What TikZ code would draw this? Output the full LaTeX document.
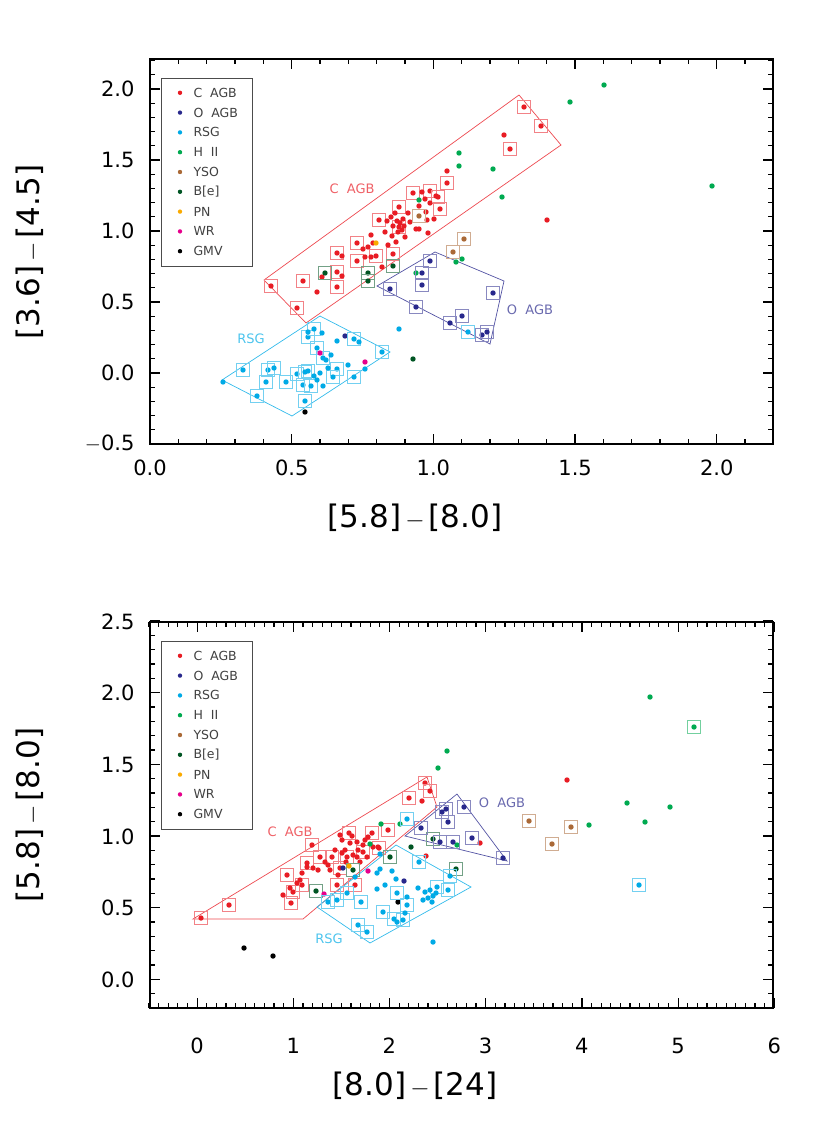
\documentclass[tikz,border=0pt]{standalone}
\usepackage{fontspec}
\setsansfont{DejaVu Sans}
\definecolor{cagb}{RGB}{232,28,36}
\definecolor{oagb}{RGB}{40,40,140}
\definecolor{rsg}{RGB}{0,170,230}
\definecolor{hii}{RGB}{0,170,80}
\definecolor{yso}{RGB}{170,105,55}
\definecolor{bee}{RGB}{0,85,35}
\definecolor{pne}{RGB}{250,170,0}
\definecolor{wr}{RGB}{230,0,140}
\definecolor{gmv}{RGB}{0,0,0}
\tikzset{
  boxed/.style={draw=#1!55,line width=0.8pt},
  frame/.style={line width=1.2pt},
  region/.style={draw=#1!80,line width=0.7pt},
  ticklab/.style={font=\sffamily\fontsize{21}{21}\selectfont},
  axlab/.style={font=\sffamily\fontsize{31}{31}\selectfont},
  leglab/.style={font=\sffamily\fontsize{12.5}{12.5}\selectfont,anchor=west,text=black!75},
  reglab/.style={font=\sffamily\fontsize{13}{13}\selectfont,text=#1!70},
}
% plain dot and boxed dot, in pixel coordinates
\newcommand\pts[2]{\foreach \p in {#2} \fill[#1] \p circle (2.7pt);}
\newcommand\bxs[2]{\foreach \p in {#2} {\fill[#1] \p circle (2.7pt);
  \draw[boxed=#1] \p +(-6.5,-6.5) rectangle +(6.5,6.5);}}
\newcommand\legend[1]{%
  \draw[line width=0.6pt,black!70] (161,#1) rectangle (252,#1+188);
  \foreach \c/\t [count=\i] in {cagb/C\ \ AGB,oagb/O\ \ AGB,rsg/RSG,hii/H\ \ II,yso/YSO,bee/B{[}e{]},pne/PN,wr/WR,gmv/GMV}
    {\fill[\c] (180,#1-5+19.8*\i) circle (2.2pt);
     \node[leglab] at (190,#1-5+19.8*\i) {\t};}}
\begin{document}
\begin{tikzpicture}[x=1pt,y=-1pt]
\useasboundingbox (0,0) rectangle (830,1127);
% ---------- top panel ----------
\draw[frame] (150,59) rectangle (773,444);
\foreach \v in {0,...,22} {\pgfmathsetmacro\xx{150+28.33*\v}
  \pgfmathsetmacro\tl{mod(\v,5)==0?10:5}
  \draw[frame] (\xx,444) -- ++(0,-\tl) (\xx,59) -- ++(0,\tl);}
\foreach \v in {0,...,27} {\pgfmathsetmacro\yy{444-14.2*\v}
  \pgfmathsetmacro\tl{mod(\v,5)==0?10:5}
  \draw[frame] (150,\yy) -- ++(\tl,0) (773,\yy) -- ++(-\tl,0);}
\foreach \t [count=\i from 0] in {0.0,0.5,1.0,1.5,2.0}
  \node[ticklab] at (150+141.7*\i,468) {\t};
\foreach \t [count=\i from 0] in {$-$0.5,0.0,0.5,1.0,1.5,2.0}
  \node[ticklab,anchor=east] at (138,444-71*\i) {\t};
\node[axlab] at (415,518) {[5.8]$\,-\,$[8.0]};
\node[axlab,rotate=90] at (30,252) {[3.6]$\,-\,$[4.5]};
% regions
\draw[region=cagb] (264,280) -- (519,95) -- (561,145) -- (306,323) -- cycle;
\draw[region=oagb] (377,286) -- (435,252) -- (504,281) -- (490,344) -- cycle;
\draw[region=rsg] (222,380) -- (320,316) -- (390,352) -- (292,416) -- cycle;
\node[reglab=cagb] at (352,189) {C\ \ AGB};
\node[reglab=oagb] at (530,310) {O\ \ AGB};
\node[reglab=rsg] at (251,339) {RSG};
% points
\bxs{cagb}{(271,286),(303,281),(297,308),(337,253),(337,272),(337,287),(357,243),(357,261),(376,256),(379,220),(399,207),(399,227),(413,193),(430,191),(438,197),(440,209),(447,183),(393,254),(524,107),(541,126),(510,149)}
\pts{cagb}{(317,292),(322,277),(342,256),(342,276),(363,249),(365,257),(368,247),(371,235),(371,257),(373,243),(382,267),(388,245),(391,217),(393,226),(396,242),(397,221),(402,230),(403,219),(405,237),(408,213),(416,229),(419,229),(422,192),(425,199),(427,220),(428,233),(434,219),(436,196),(447,171),(430,203),(504,135),(547,220),(395,213),(400,223),(385,232),(398,232),(404,226),(410,222),(392,236),(387,221),(419,206),(426,212)}
\pts{hii}{(459,153),(459,166),(419,200),(416,273),(462,259),(456,262),(604,85),(570,102),(493,169),(502,197),(712,186)}
\bxs{bee}{(325,273),(368,273),(368,281),(393,266)}
\pts{bee}{(413,359)}
\pts{pne}{(376,243)}
\bxs{yso}{(419,216),(464,239),(453,252)}
\bxs{oagb}{(390,289),(422,273),(422,285),(430,261),(416,307),(450,323),(462,316),(493,293),(482,335),(487,332)}
\pts{oagb}{(345,336)}
\bxs{rsg}{(243,370),(268,370),(274,368),(266,382),(257,396),(286,382),(297,374),(303,385),(305,372),(311,386),(308,337),(314,329),(317,348),(323,358),(337,369),(333,377),(354,377),(354,339),(382,352),(305,401),(308,371),(468,332)}
\pts{rsg}{(223,382),(308,332),(322,333),(337,341),(359,342),(399,329),(331,355),(317,380),(328,368),(348,365),(365,369),(323,386),(320,373),(326,360),(314,376)}
\pts{wr}{(320,353),(365,362)}
\pts{gmv}{(305,412)}
\legend{78}
% ---------- bottom panel ----------
\draw[frame] (150,622) rectangle (773,1008);
\foreach \v in {0,...,65} {\pgfmathsetmacro\xx{149+9.62*\v}
  \pgfmathsetmacro\tl{mod(\v,10)==5?10:5}
  \draw[frame] (\xx,1008) -- ++(0,-\tl) (\xx,622) -- ++(0,\tl);}
\foreach \v in {0,...,27} {\pgfmathsetmacro\yy{1008-14.33*\v}
  \pgfmathsetmacro\tl{mod(\v,5)==2?10:5}
  \draw[frame] (150,\yy) -- ++(\tl,0) (773,\yy) -- ++(-\tl,0);}
\foreach \i in {0,...,6}
  \node[ticklab] at (197+96.2*\i,1046) {\i};
\foreach \t [count=\i from 0] in {0.0,0.5,1.0,1.5,2.0,2.5}
  \node[ticklab,anchor=east] at (138,980-71.7*\i) {\t};
\node[axlab] at (415,1086) {[8.0]$\,-\,$[24]};
\node[axlab,rotate=90] at (30,815) {[5.8]$\,-\,$[8.0]};
% regions
\draw[region=cagb] (193,919) -- (427,777) -- (437,807) -- (303,919) -- cycle;
\draw[region=oagb] (405,836) -- (457,794) -- (507,861) -- cycle;
\draw[region=rsg] (317,907) -- (396,845) -- (471,887) -- (370,943) -- cycle;
\node[reglab=cagb] at (290,832) {C\ \ AGB};
\node[reglab=oagb] at (502,803) {O\ \ AGB};
\node[reglab=rsg] at (329,939) {RSG};
% points
\bxs{cagb}{(201,918),(229,905),(291,903),(293,892),(287,875),(302,885),(307,863),(320,857),(332,857),(337,885),(355,885),(347,857),(349,833),(363,852),(372,833),(388,830),(409,798),(425,783),(430,791),(379,848),(312,845),(340,868)}
\pts{cagb}{(283,895),(297,883),(302,873),(307,867),(313,868),(318,870),(325,862),(328,865),(330,870),(338,875),(342,840),(345,850),(350,843),(353,855),(357,842),(358,850),(363,845),(367,857),(368,837),(373,847),(378,847),(342,853),(357,857),(422,801),(426,856),(480,843),(567,780),(335,850),(346,862),(352,836),(360,862),(365,840),(340,835),(300,880),(290,888)}
\pts{hii}{(447,751),(438,768),(650,697),(627,803),(670,807),(645,822),(589,825),(457,845),(400,824),(381,824),(370,844)}
\bxs{hii}{(694,727)}
\bxs{yso}{(529,821),(571,827),(552,844)}
\bxs{bee}{(316,891),(353,870),(390,857),(433,839),(456,869)}
\pts{bee}{(411,847)}
\bxs{oagb}{(442,812),(446,809),(448,822),(464,807),(421,828),(440,842),(453,842),(472,838),(503,858)}
\pts{oagb}{(343,868),(404,881)}
\pts{wr}{(368,871),(324,894)}
\pts{pne}{(349,866)}
\pts{gmv}{(244,948),(273,956),(398,902)}
\bxs{rsg}{(328,902),(337,900),(347,893),(361,902),(358,925),(367,932),(383,912),(394,919),(397,893),(407,905),(419,862),(407,819),(437,887),(448,890),(450,876),(403,920),(639,885)}
\pts{rsg}{(377,873),(380,869),(392,871),(385,885),(377,889),(396,879),(418,888),(425,892),(428,898),(432,902),(433,896),(423,900),(407,897),(405,913),(397,922),(433,942),(380,854),(355,877),(430,890),(436,893)}
\legend{641}
\end{tikzpicture}
\end{document}
